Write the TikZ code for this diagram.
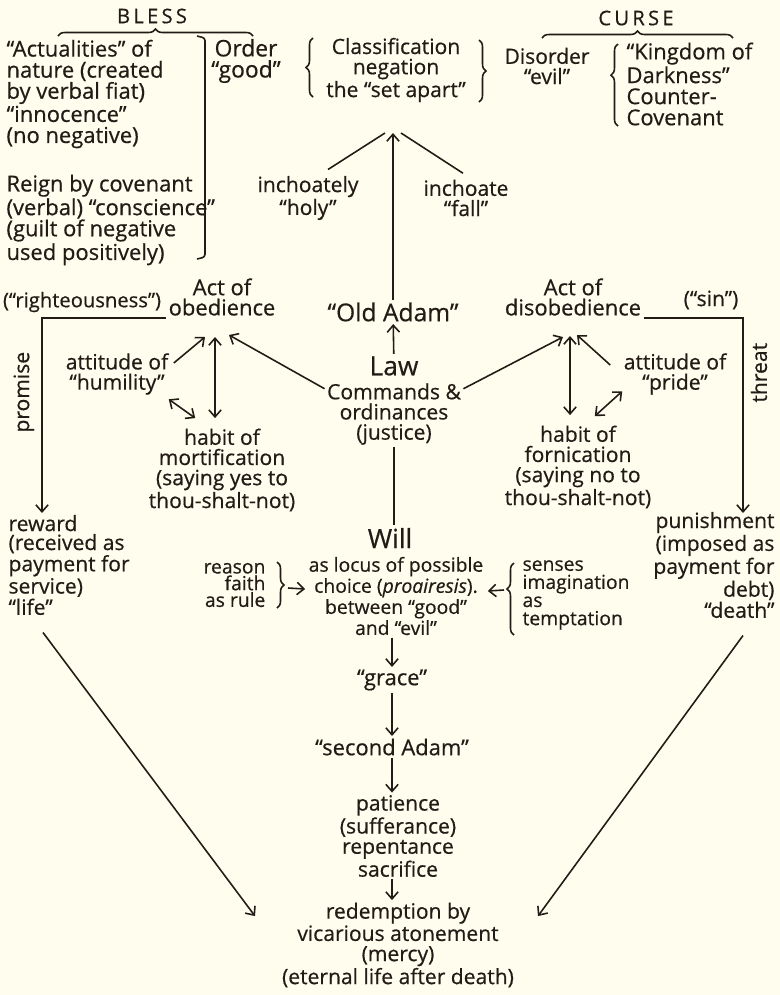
\documentclass[tikz,border=0pt]{standalone}
\usepackage{fontspec}
\setmainfont[FakeBold=0.5]{Open Sans}
\newfontfamily\capsfont[LetterSpace=16,FakeBold=0.5]{Open Sans}
\usetikzlibrary{arrows.meta,calc,decorations.pathreplacing,positioning}
\definecolor{paper}{RGB}{254,253,238}
\definecolor{ink}{RGB}{34,27,22}
\begin{document}
\begin{tikzpicture}[x=0.02cm,y=-0.02cm,>={Straight Barb[length=4pt,width=7pt]},line width=0.9pt,color=ink,
  txt/.style={align=center,inner sep=1pt,font=\fontsize{12}{11.5}\selectfont},
  blocktxt/.style={txt,font=\fontsize{12.5}{12}\selectfont},
  smalltxt/.style={txt,font=\fontsize{11}{10.3}\selectfont},
  bigtxt/.style={txt,font=\fontsize{14}{14}\selectfont},
  brc/.style={decorate,decoration={brace,amplitude=4pt}}]
  \useasboundingbox (0,0) rectangle (780,995);
  \fill[paper] (0,0) rectangle (780,995);

  \node[font=\capsfont\fontsize{11.5}{11.5}\selectfont] (bless) at (152,16) {BLESS};
  \node[font=\capsfont\fontsize{11.5}{11.5}\selectfont] (curse) at (636,18) {CURSE};
  \draw[brc] (58,36) -- (253,36);
  \draw[brc] (542,38) -- (733,38);

  \node[blocktxt,align=left,anchor=west] (actual) at (4,94)
    {``Actualities'' of\\nature (created\\by verbal fiat)\\``innocence''\\(no negative)};
  \node[blocktxt,align=left,anchor=west] (reign) at (4,220)
    {Reign by covenant\\(verbal) ``conscience''\\(guilt of negative\\used positively)};
  \draw[rounded corners=1.5pt] (197,36) -- (205,38) -- (205,257) -- (197,259);
  \node[txt,font=\fontsize{13}{12}\selectfont] (order) at (246,61) {Order\\``good''};
  \draw[brc] (313,97) -- (313,38);
  \node[txt] (classif) at (396,70) {Classification\\negation\\the ``set apart''};
  \draw[brc] (479,40) -- (479,102);
  \node[txt] (disorder) at (547,66) {Disorder\\``evil''};
  \draw[decorate,decoration={brace,amplitude=4pt,aspect=0.62}] (618,126) -- (618,44);
  \node[blocktxt,align=left,anchor=west] (kingdom) at (624,84)
    {``Kingdom of\\Darkness''\\Counter-\\Covenant};

  \coordinate (apex) at (393,133);
  \node[txt] (holy) at (308,198) {inchoately\\``holy''};
  \node[txt] (fall) at (466,198) {inchoate\\``fall''};
  \node[bigtxt] (oldadam) at (393,312) {``Old Adam''};
  \draw[->] (oldadam) -- (apex);
  \draw ($(holy.north)+(20,-4)$) -- ($(apex)+(-8,0)$);
  \draw ($(fall.north)+(-3,-4)$) -- ($(apex)+(8,0)$);

  \node[txt,font=\fontsize{12.5}{11.5}\selectfont] (obed) at (222,297) {Act of\\obedience};
  \node[txt,font=\fontsize{12.5}{11.5}\selectfont] (disobed) at (573,297) {Act of\\disobedience};
  \node[txt,font=\fontsize{11.5}{11}\selectfont] (rightn) at (82,302) {(``righteousness'')};
  \node[txt] (sin) at (711,300) {(``sin'')};
  \coordinate (promtip) at (42,513);
  \coordinate (threattip) at (743,513);
  \draw[->] (obed.south west) -| node[txt,pos=0.69,rotate=90,anchor=south,inner sep=4pt] {promise} (promtip);
  \draw[->] (disobed.south east) -| node[txt,pos=0.64,rotate=90,anchor=north,inner sep=4pt] {threat} (threattip);

  \node[txt] (humil) at (117,374) {attitude of\\``humility''};
  \node[txt] (pride) at (675,374) {attitude of\\``pride''};
  \node[txt] (mortif) at (222,470) {habit of\\mortification\\(saying yes to\\thou-shalt-not)};
  \node[txt] (fornic) at (578,467) {habit of\\fornication\\(saying no to\\thou-shalt-not)};
  \node[txt,font=\fontsize{15}{15}\selectfont] (lawhead) at (394,366) {Law};
  \node[txt] (law) at (394,414) {Commands \&\\ordinances\\(justice)};
  \draw[->] (lawhead) -- (oldadam);

  \coordinate (ob) at (215,337);
  \coordinate (dob) at (570,336);
  \draw[->] ($(humil.east)+(3,-11)$) -- ($(ob)+(-10,0)$);
  \draw[<->] (ob) -- ($(ob |- mortif.north)+(0,-8)$);
  \draw[<->] ($(humil.south east)+(-2,2)$) -- ($(mortif.north west)+(49,-8)$);
  \draw[->] (law.160) -- ($(ob)+(14,-2)$);
  \draw[->] (law.20) -- ($(dob)+(-7,1)$);
  \draw[->] ($(pride.west)+(-11,-9)$) -- ($(dob)+(7,-1)$);
  \draw[<->] (dob) -- ($(dob |- fornic.north)+(0,-8)$);
  \draw[<->] ($(fornic.north east)+(-59,-7)$) -- ($(pride.south west)+(1,-6)$);

  \node[blocktxt,align=left,anchor=west,font=\fontsize{12}{10.8}\selectfont] (reward) at (6,565)
    {reward\\(received as\\payment for\\service)\\``life''};
  \node[blocktxt,align=right,anchor=east,font=\fontsize{12}{10.8}\selectfont] (punish) at (777,565)
    {punishment\\(imposed as\\payment for\\debt)\\``death''};

  \node[txt,font=\fontsize{15}{15}\selectfont] (willhead) at (390,538) {Will};
  \node[smalltxt] (willbody) at (396,596)
    {as locus of possible\\choice (\textit{proairesis}).\\between ``good''\\and ``evil''};
  \draw (law.south) -- (law.south |- willhead.north);
  \node[smalltxt,align=right,anchor=east,font=\fontsize{11}{9.5}\selectfont] (reason) at (268,585)
    {reason\\faith\\as rule};
  \draw[brc] (277,562) -- (277,608);
  \draw[->] ($(reason.east)+(20,3)$) -- ($(willbody.west)+(-1,-7)$);
  \node[smalltxt,align=left,anchor=west] (senses) at (520,595)
    {senses\\imagination\\as\\temptation};
  \draw[decorate,decoration={brace,amplitude=4pt,aspect=0.64}] (514,635) -- (514,563);
  \draw[->] ($(senses.west)+(-16,-5)$) -- ($(willbody.east)+(2,-5)$);

  \node[txt,font=\fontsize{12.5}{12}\selectfont] (grace) at (392,680) {``grace''};
  \node[txt,font=\fontsize{12.5}{12}\selectfont] (second) at (392,747) {``second Adam''};
  \node[txt] (patience) at (398,836) {patience\\(sufferance)\\repentance\\sacrifice};
  \node[txt] (redemp) at (398,945)
    {redemption by\\vicarious atonement\\(mercy)\\(eternal life after death)};
  \draw[->] (willbody.south -| grace) -- (grace);
  \draw[->] (grace) -- (second);
  \draw[->] (second.south) -- (patience.north -| second);
  \draw[->] (patience.south -| second) -- (redemp.north -| second);
  \draw[->] ($(reward.south west)+(37,15)$) -- ($(redemp.north)+(-143,16)$);
  \draw[->] ($(punish.south east)+(-34,15)$) -- ($(redemp.north)+(140,16)$);
\end{tikzpicture}
\end{document}
